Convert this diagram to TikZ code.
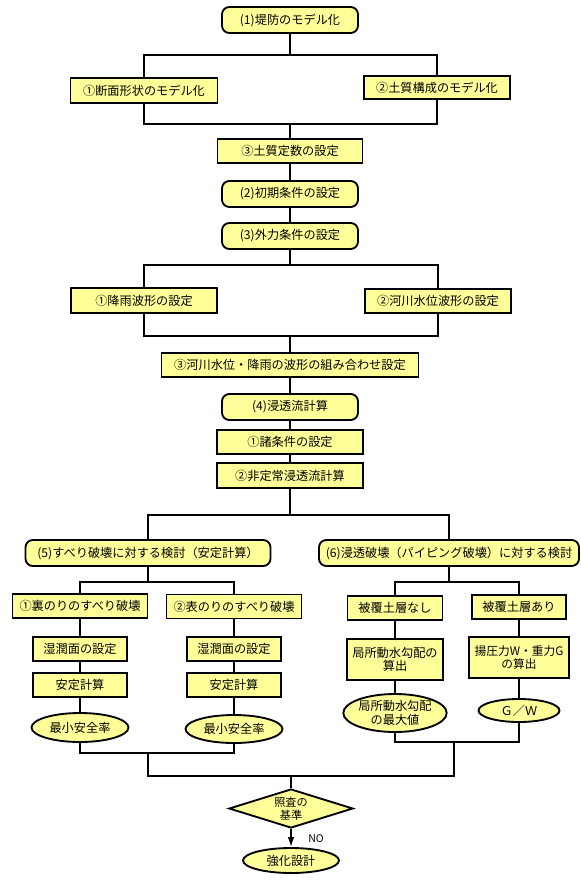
\documentclass[tikz,border=0pt]{standalone}
\usepackage{fontspec}
\setmainfont{Noto Sans CJK JP}
\usetikzlibrary{shapes.geometric,arrows.meta}
\definecolor{boxfill}{RGB}{255,255,153}

\begin{document}
\begin{tikzpicture}[x=0.03cm,y=-0.03cm,
  font=\fontsize{10.4}{11.5}\selectfont,
  stepbox/.style={draw,line width=1.6pt,fill=boxfill,minimum height=0.72cm,inner sep=0pt,align=center},
  termbox/.style={stepbox,rounded corners=0.22cm,minimum width=4.08cm,minimum height=0.78cm},
  resultoval/.style={ellipse,draw,line width=1.6pt,fill=boxfill,inner sep=0pt,align=center},
  judge/.style={diamond,draw,line width=1.6pt,fill=boxfill,inner sep=0pt,align=center,shape aspect=3,
    minimum width=3.72cm,minimum height=1.17cm,font=\fontsize{9.5}{11}\selectfont},
  link/.style={line width=1.3pt}]
\useasboundingbox (0,0) rectangle (580,887);
% upper part
\node[termbox] (model) at (290,20) {(1)堤防のモデル化};
\node[stepbox,minimum width=4.41cm,minimum height=0.75cm] (section) at (144,90.5) {①断面形状のモデル化};
\node[stepbox,minimum width=4.38cm,minimum height=0.69cm] (soil) at (437,87.5) {②土質構成のモデル化};
\node[stepbox,minimum width=4.35cm] (const) at (290,151) {③土質定数の設定};
\node[termbox] (init) at (290,194) {(2)初期条件の設定};
\node[termbox] (load) at (290,236) {(3)外力条件の設定};
\node[stepbox,minimum width=4.38cm,minimum height=0.75cm] (rain) at (144,300.5) {①降雨波形の設定};
\node[stepbox,minimum width=4.38cm] (river) at (438,301) {②河川水位波形の設定};
\node[stepbox,minimum width=7.71cm] (combine) at (290,365) {③河川水位・降雨の波形の組み合わせ設定};
\node[termbox] (seep) at (290,407) {(4)浸透流計算};
\node[stepbox,minimum width=4.38cm] (cond) at (290,442) {①諸条件の設定};
\node[stepbox,minimum width=4.38cm,minimum height=0.75cm] (unsteady) at (290,475.5) {②非定常浸透流計算};
% checks
\node[termbox,minimum width=7.35cm] (slide) at (148,553) {(5)すべり破壊に対する検討（安定計算）};
\node[termbox,minimum width=7.8cm] (piping) at (449,553) {(6)浸透破壊（パイピング破壊）に対する検討};
\node[stepbox,minimum width=4.05cm] (back) at (80,606) {①裏のりのすべり破壊};
\node[stepbox,minimum width=2.82cm] (wetA) at (80,649) {湿潤面の設定};
\node[stepbox,minimum width=2.82cm] (calcA) at (80,685) {安定計算};
\node[resultoval,minimum width=2.91cm,minimum height=0.87cm] (minA) at (80,727.5) {最小安全率};
\node[stepbox,minimum width=4.05cm] (front) at (234,606.5) {②表のりのすべり破壊};
\node[stepbox,minimum width=2.82cm] (wetB) at (234,649) {湿潤面の設定};
\node[stepbox,minimum width=2.82cm] (calcB) at (234,685) {安定計算};
\node[resultoval,minimum width=2.91cm,minimum height=0.84cm] (minB) at (234,729) {最小安全率};
\node[stepbox,minimum width=2.85cm] (nocover) at (395,608) {被覆土層なし};
\node[stepbox,minimum width=2.82cm] (cover) at (519,607) {被覆土層あり};
\node[stepbox,minimum width=2.88cm,minimum height=1.23cm] (grad) at (395,659.5) {局所動水勾配の\\算出};
\node[stepbox,minimum width=3.0cm,minimum height=1.23cm,font=\fontsize{10}{11.5}\selectfont] (uplift) at (519,657.5) {揚圧力W・重力G\\の算出};
\node[resultoval,minimum width=3.09cm,minimum height=1.14cm] (maxgrad) at (395,713) {局所動水勾配\\の最大値};
\node[resultoval,minimum width=2.43cm,minimum height=0.69cm] (ratio) at (519,710.5) {Ｇ／Ｗ};
% judgement
\node[judge] (check) at (291,808.5) {照査の\\基準};
\node[resultoval,minimum width=2.88cm,minimum height=0.75cm] (reinforce) at (291,860.5) {強化設計};
\node[font=\fontsize{9}{10}\selectfont] (no) at (316,839) {NO};

\coordinate (sp1) at (290,55);
\coordinate (mg1) at (290,124);
\coordinate (sp2) at (290,265);
\coordinate (mg2) at (290,336);
\coordinate (sp3) at (290,515);
\coordinate (sp4) at (148,582);
\coordinate (sp5) at (449,582);
\coordinate (mg4) at (148,753);
\coordinate (mg5) at (454,742);
\coordinate (mg6) at (148,776);
\coordinate (mg7) at (454,776);
\coordinate (mg8) at (291,776);

\draw[link] (model) -- (sp1);
\draw[link] (section) |- (sp1) -| (soil);
\draw[link] (section) |- (mg1) -| (soil);
\draw[link] (mg1) -- (const);
\draw[link] (const) -- (init);
\draw[link] (init) -- (load);
\draw[link] (load) -- (sp2);
\draw[link] (rain) |- (sp2) -| (river);
\draw[link] (rain) |- (mg2) -| (river);
\draw[link] (mg2) -- (combine);
\draw[link] (combine) -- (seep);
\draw[link] (seep) -- (cond);
\draw[link] (cond) -- (unsteady);
\draw[link] (unsteady) -- (sp3);
\draw[link] (slide) |- (sp3) -| (piping);
\draw[link] (slide) -- (sp4);
\draw[link] (back) |- (sp4) -| (front);
\draw[link] (back) -- (wetA);
\draw[link] (wetA) -- (calcA);
\draw[link] (calcA) -- (minA);
\draw[link] (front) -- (wetB);
\draw[link] (wetB) -- (calcB);
\draw[link] (calcB) -- (minB);
\draw[link] (minA) |- (mg4) -| (minB);
\draw[link] (piping) -- (sp5);
\draw[link] (nocover) |- (sp5) -| (cover);
\draw[link] (nocover) -- (grad);
\draw[link] (grad) -- (maxgrad);
\draw[link] (cover) -- (uplift);
\draw[link] (uplift) -- (ratio);
\draw[link] (maxgrad) |- (mg5) -| (ratio);
\draw[link] (mg4) -- (mg6) -- (mg7) -- (mg5);
\draw[link] (mg8) -- (check);
\draw[link,-{Latex[length=0.3cm,width=0.2cm]}] (check) -- (reinforce);
\end{tikzpicture}
\end{document}
